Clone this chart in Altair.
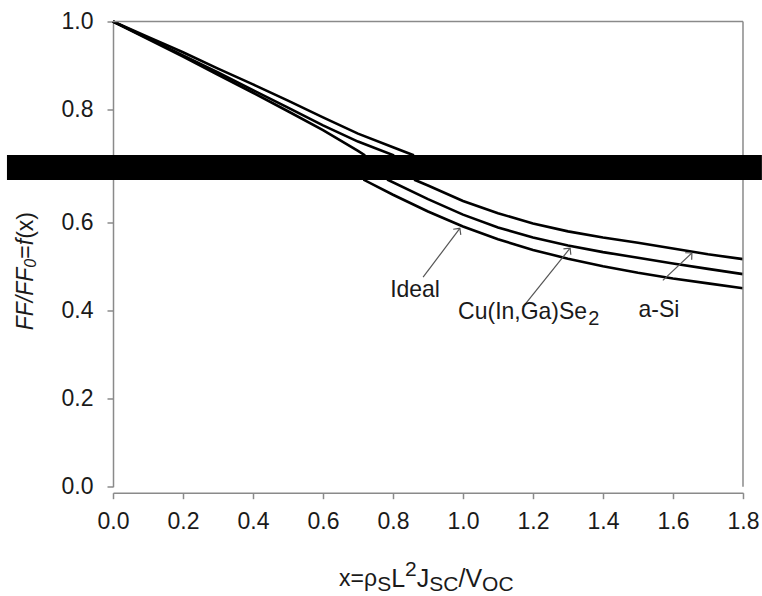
import math
import altair as alt
import pandas as pd

# ---- data ----
# each curve carries the two points where it meets the top and bottom edge of the black band
x_ideal = [0, 0.1, 0.2, 0.3, 0.4, 0.5, 0.6, 0.7, 0.718, 0.718, 0.8, 0.9, 1.0, 1.1, 1.2, 1.3, 1.4, 1.5, 1.6, 1.7, 1.8]
y_ideal = [1.0, 0.960, 0.920, 0.879, 0.838, 0.796, 0.753, 0.706, 0.6966, 0.6954, 0.662, 0.624, 0.590, 0.561, 0.537, 0.517, 0.500, 0.485, 0.472, 0.461, 0.450]

x_cigs = [0, 0.1, 0.2, 0.3, 0.4, 0.5, 0.6, 0.7, 0.80, 0.786, 0.9, 1.0, 1.1, 1.2, 1.3, 1.4, 1.5, 1.6, 1.7, 1.8]
y_cigs = [1.0, 0.962, 0.923, 0.884, 0.844, 0.804, 0.764, 0.727, 0.6966, 0.6954, 0.652, 0.617, 0.588, 0.565, 0.547, 0.532, 0.519, 0.506, 0.494, 0.482]

x_asi = [0, 0.1, 0.2, 0.3, 0.4, 0.5, 0.6, 0.7, 0.8, 0.857, 0.863, 0.9, 1.0, 1.1, 1.2, 1.3, 1.4, 1.5, 1.6, 1.7, 1.8]
y_asi = [1.0, 0.965, 0.930, 0.893, 0.857, 0.820, 0.782, 0.745, 0.714, 0.6966, 0.6954, 0.683, 0.648, 0.620, 0.597, 0.579, 0.565, 0.553, 0.540, 0.527, 0.516]

x_ticks = [0.0, 0.2, 0.4, 0.6, 0.8, 1.0, 1.2, 1.4, 1.6, 1.8]
y_ticks = [0.0, 0.2, 0.4, 0.6, 0.8, 1.0]

# occluding black band (data units)
band_x = [-0.303, 1.854]
band_y = [0.6955, 0.6965]

# annotations: label, label x, label y, arrow tail (x, y), arrow tip (x, y)
ann_text = ["Ideal", "a-Si"]
ann_tx = [0.863, 1.56]
ann_ty = [0.4455, 0.400]
arrow_x1 = [0.886, 1.171, 1.571]
arrow_y1 = [0.475, 0.407, 0.468]
arrow_x2 = [0.991, 1.306, 1.654]
arrow_y2 = [0.586, 0.541, 0.530]

FONT = "Liberation Sans"
GRAY = "#8a8a8a"
INK = "#1a1a1a"

# ---- scales ----
PX_X = 350.0   # pixels per x unit
PX_Y = 440.0   # pixels per y unit
xscale = alt.Scale(domain=[0, 1.8], nice=False, zero=False)
yscale = alt.Scale(domain=[0, 0.6955, 0.6965, 1.0], range=[465.2, 158.5, 133.5, 0],
                   nice=False, zero=False)

# ---- curves ----
rows = []
for name, xs, ys in [("Ideal", x_ideal, y_ideal), ("CIGS", x_cigs, y_cigs), ("a-Si", x_asi, y_asi)]:
    for i, (a, b) in enumerate(zip(xs, ys)):
        rows.append({"series": name, "x": a, "y": b, "i": i})
curves_df = pd.DataFrame(rows)

curves = alt.Chart(curves_df).mark_line(color="black", strokeWidth=2.6).encode(
    x=alt.X("x:Q", scale=xscale,
            axis=alt.Axis(values=x_ticks, format=".1f", title=None, grid=False,
                          offset=6, tickSize=6, tickWidth=1.5, domainWidth=1.5,
                          domainColor=GRAY, tickColor=GRAY, labelColor=INK,
                          labelFont=FONT, labelFontSize=23, labelPadding=12,
                          labelFlush=False, labelOverlap=False)),
    y=alt.Y("y:Q", scale=yscale,
            axis=alt.Axis(values=y_ticks, format=".1f", title=None, grid=False,
                          tickSize=6, tickWidth=1.5, domainWidth=1.5,
                          domainColor=GRAY, tickColor=GRAY, labelColor=INK,
                          labelFont=FONT, labelFontSize=23, labelPadding=14,
                          labelFlush=False, labelOverlap=False)),
    detail="series:N",
    order="i:Q",
)

# ---- frame (top and right) ----
frame_df = pd.DataFrame({"x": [0, 1.8], "x2": [1.8, 1.8], "y": [1.0, 0.0], "y2": [1.0, 1.0]})
frame = alt.Chart(frame_df).mark_rule(color=GRAY, strokeWidth=1.5).encode(
    x="x:Q", x2="x2:Q", y="y:Q", y2="y2:Q")

# ---- black band ----
band_df = pd.DataFrame({"x": [band_x[0]], "x2": [band_x[1]], "y": [band_y[0]], "y2": [band_y[1]]})
band = alt.Chart(band_df).mark_rect(color="black").encode(
    x="x:Q", x2="x2:Q", y="y:Q", y2="y2:Q")

# ---- arrows ----
arr_df = pd.DataFrame({"x": arrow_x1, "y": arrow_y1, "x2": arrow_x2, "y2": arrow_y2})
arr_df["angle"] = [
    (math.degrees(math.atan2((a2 - a1) * PX_X, (b2 - b1) * PX_Y)) + 360) % 360
    for a1, b1, a2, b2 in zip(arrow_x1, arrow_y1, arrow_x2, arrow_y2)
]
arrow_lines = alt.Chart(arr_df).mark_rule(color="#555555", strokeWidth=1.2).encode(
    x="x:Q", y="y:Q", x2="x2:Q", y2="y2:Q")
arrow_heads = alt.Chart(arr_df).mark_point(
    shape="M -1 1 L 0 0 L 1 1", filled=False, color="#555555", strokeWidth=1.2, size=90, opacity=1
).encode(x="x2:Q", y="y2:Q", angle=alt.Angle("angle:Q", scale=None))

# ---- curve labels ----
lab_df = pd.DataFrame({"t": ann_text, "x": ann_tx, "y": ann_ty})
labels = alt.Chart(lab_df).mark_text(font=FONT, fontSize=23, color=INK,
                                     align="center", baseline="middle").encode(
    x="x:Q", y="y:Q", text="t:N")

cigs_df = pd.DataFrame({"t": ["Cu(In,Ga)Se", "2"], "x": [0.986, 1.358], "y": [0.3955, 0.381],
                        "s": [23, 20]})
cigs_label = alt.Chart(cigs_df).mark_text(font=FONT, color=INK, align="left",
                                          baseline="middle").encode(
    x="x:Q", y="y:Q", text="t:N", size=alt.Size("s:Q", scale=None))

# ---- x axis title with sub/superscripts ----
xt_df = pd.DataFrame({
    "t": ["x=ρ", "S", "L", "2", "J", "SC", "/V", "OC"],
    "x": [0.6457, 0.7549, 0.7949, 0.8346, 0.868, 0.9037, 0.9871, 1.0546],
    "y": [-0.209, -0.222, -0.209, -0.190, -0.209, -0.222, -0.209, -0.222],
    "s": [23, 21, 25, 21, 25, 21, 25, 21],
})
xtitle = alt.Chart(xt_df).mark_text(font=FONT, color=INK, align="left",
                                    baseline="middle").encode(
    x="x:Q", y="y:Q", text="t:N", size=alt.Size("s:Q", scale=None))

# ---- y axis title (rotated) ----
yt_df = pd.DataFrame({
    "t": ["FF/FF", "0", "=", "f", "(x)"],
    "x": [-0.2486, -0.234, -0.2486, -0.2486, -0.2486],
    "y": [0.3546, 0.4964, 0.5171, 0.5478, 0.5621],
    "s": [23, 16, 23, 23, 23],
    "st": ["italic", "italic", "normal", "italic", "normal"],
})
ytitle_it = alt.Chart(yt_df[yt_df.st == "italic"]).mark_text(
    font=FONT, fontStyle="italic", color=INK, align="left", baseline="middle", angle=270
).encode(x="x:Q", y="y:Q", text="t:N", size=alt.Size("s:Q", scale=None))
ytitle_n = alt.Chart(yt_df[yt_df.st == "normal"]).mark_text(
    font=FONT, color=INK, align="left", baseline="middle", angle=270
).encode(x="x:Q", y="y:Q", text="t:N", size=alt.Size("s:Q", scale=None))

chart = alt.layer(
    curves, frame, band, arrow_lines, arrow_heads, labels, cigs_label, xtitle, ytitle_it, ytitle_n
).properties(
    width=630, height=465.2,
    autosize=alt.AutoSizeParams(type="none"),
    padding={"left": 113, "top": 21.5, "right": 19, "bottom": 110},
    background="white",
).configure_view(stroke=None)

chart.save("out.html", embed_options={"renderer": "svg", "actions": False})
